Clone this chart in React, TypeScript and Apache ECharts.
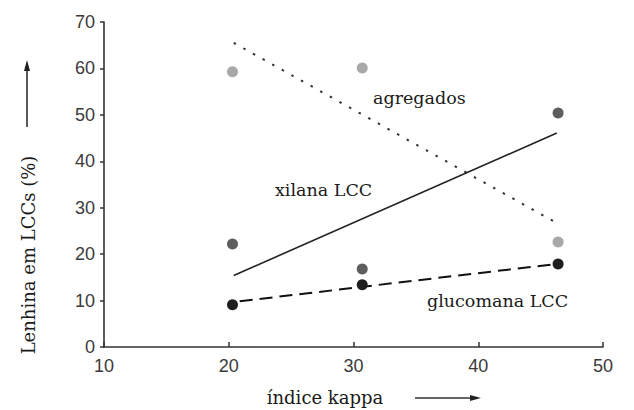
import React, { useEffect, useRef } from "react";
import * as echarts from "echarts";

const kappa = [20.3, 30.7, 46.4];
const agregados = [59.3, 60.1, 22.6];
const xilana = [22.2, 16.8, 50.4];
const glucomana = [9.1, 13.4, 17.9];

const trendX = [20.4, 46.3];
const trendAgregados = [65.5, 26.7];
const trendXilana = [15.4, 46.1];
const trendGlucomana = [9.7, 17.9];

const xTicks = [10, 20, 30, 40, 50];
const yTicks = [0, 10, 20, 30, 40, 50, 60, 70];

const pairs = (xs: number[], ys: number[]) => xs.map((x, i) => [x, ys[i]]);

export default function App() {
  const ref = useRef<HTMLDivElement>(null);
  useEffect(() => {
    document.body.style.margin = "0";
    const chart = echarts.init(ref.current!, null, { renderer: "svg" });
    const serif = "DejaVu Serif";
    const sans = "Liberation Sans";
    const labelStyle = { fill: "#1a1a1a", font: `17.5px "${serif}"` };
    chart.setOption({
      animation: false,
      backgroundColor: "#fff",
      grid: { left: 104, right: 31, top: 22, bottom: 63 },
      xAxis: {
        type: "value",
        min: xTicks[0],
        max: xTicks[xTicks.length - 1],
        interval: 10,
        axisLine: { lineStyle: { color: "#333", width: 1.6 } },
        axisTick: { inside: true, length: 5, lineStyle: { color: "#333", width: 1.5 } },
        axisLabel: { color: "#3a3a3a", fontSize: 18, fontFamily: sans, margin: 10 },
        splitLine: { show: false },
      },
      yAxis: {
        type: "value",
        min: yTicks[0],
        max: yTicks[yTicks.length - 1],
        interval: 10,
        axisLine: { show: true, lineStyle: { color: "#333", width: 1.6 } },
        axisTick: { show: true, length: 4, lineStyle: { color: "#333", width: 1.5 } },
        axisLabel: { color: "#3a3a3a", fontSize: 18, fontFamily: sans, margin: 9 },
        splitLine: { show: false },
      },
      series: [
        {
          type: "line",
          data: pairs(trendX, trendAgregados),
          symbol: "none",
          lineStyle: { color: "#333", width: 2, type: [2.5, 8.5] },
          z: 1,
        },
        {
          type: "line",
          data: pairs(trendX, trendXilana),
          symbol: "none",
          lineStyle: { color: "#222", width: 1.6, type: "solid" },
          z: 1,
        },
        {
          type: "line",
          data: pairs(trendX, trendGlucomana),
          symbol: "none",
          lineStyle: { color: "#111", width: 2, type: [13, 7], dashOffset: -6 },
          z: 1,
        },
        {
          type: "scatter",
          data: pairs(kappa, agregados),
          symbolSize: 11,
          itemStyle: { color: "#a8a8a8", opacity: 1 },
          z: 2,
        },
        {
          type: "scatter",
          data: pairs(kappa, xilana),
          symbolSize: 11,
          itemStyle: { color: "#5e5e5e", opacity: 1 },
          z: 2,
        },
        {
          type: "scatter",
          data: pairs(kappa, glucomana),
          symbolSize: 11,
          itemStyle: { color: "#1e1e1e", opacity: 1 },
          z: 3,
        },
      ],
      graphic: [
        { type: "text", x: 373, y: 98, style: { ...labelStyle, text: "agregados", verticalAlign: "middle" } },
        { type: "text", x: 275, y: 190, style: { ...labelStyle, text: "xilana LCC", verticalAlign: "middle" } },
        { type: "text", x: 427, y: 301, style: { ...labelStyle, text: "glucomana LCC", verticalAlign: "middle" } },
        {
          type: "text",
          x: 28,
          y: 255,
          rotation: Math.PI / 2,
          style: { fill: "#1a1a1a", font: `18px "${serif}"`, text: "Lenhina em LCCs (%)", align: "center", verticalAlign: "middle" },
        },
        {
          type: "text",
          x: 325,
          y: 397,
          style: { fill: "#1a1a1a", font: `18px "${serif}"`, text: "índice kappa", align: "center", verticalAlign: "middle" },
        },
        { type: "line", shape: { x1: 27, y1: 127, x2: 27, y2: 68 }, style: { stroke: "#222", lineWidth: 1.5 } },
        { type: "polygon", shape: { points: [[27, 60], [24, 71], [30, 71]] }, style: { fill: "#222" } },
        { type: "line", shape: { x1: 415, y1: 398, x2: 472, y2: 398 }, style: { stroke: "#333", lineWidth: 1.5 } },
        { type: "polygon", shape: { points: [[481, 398], [470, 395], [470, 401]] }, style: { fill: "#222" } },
      ],
    });
    return () => chart.dispose();
  }, []);
  return <div ref={ref} style={{ width: 634, height: 410 }} />;
}
